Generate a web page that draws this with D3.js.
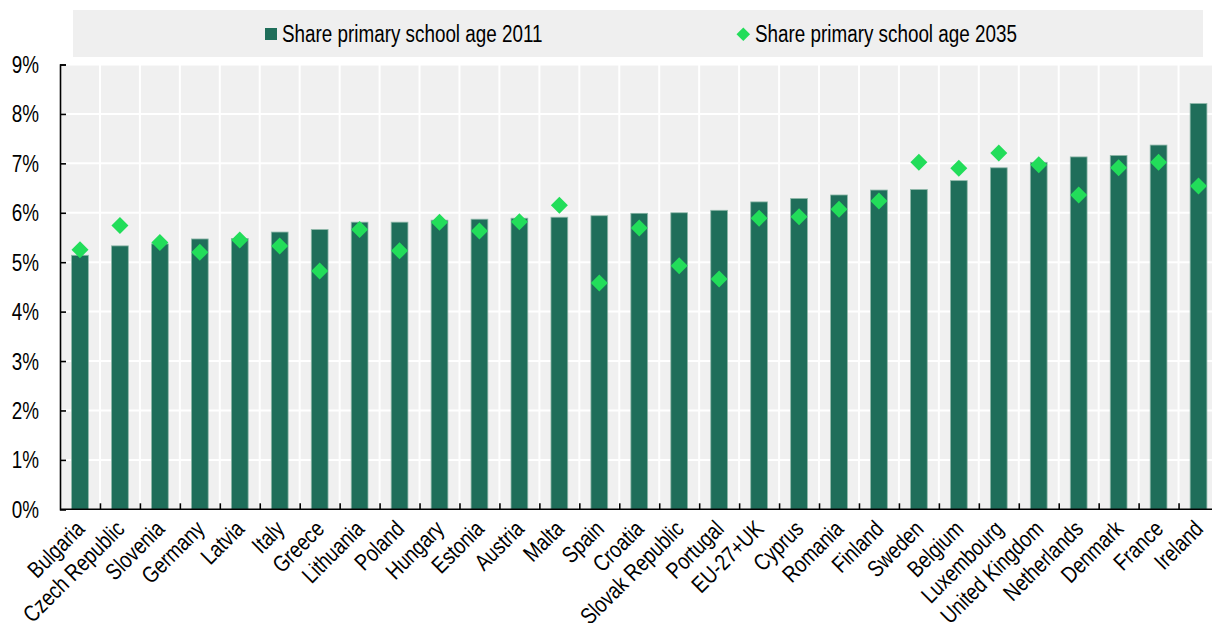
<!DOCTYPE html>
<html>
<head>
<meta charset="utf-8">
<script src="https://cdn.jsdelivr.net/npm/d3@7"></script>
<style>
  html, body { margin: 0; padding: 0; background: #ffffff; }
  svg { display: block; }
</style>
</head>
<body>
<svg id="chart" width="1212" height="623"></svg>
<script>
const categories = ["Bulgaria", "Czech Republic", "Slovenia", "Germany", "Latvia", "Italy", "Greece",
  "Lithuania", "Poland", "Hungary", "Estonia", "Austria", "Malta", "Spain", "Croatia",
  "Slovak Republic", "Portugal", "EU-27+UK", "Cyprus", "Romania", "Finland", "Sweden",
  "Belgium", "Luxembourg", "United Kingdom", "Netherlands", "Denmark", "France", "Ireland"];
const share2011 = [5.14, 5.33, 5.37, 5.47, 5.48, 5.61, 5.66, 5.81, 5.81, 5.85, 5.87, 5.89, 5.91, 5.94,
  5.99, 6.00, 6.05, 6.22, 6.29, 6.36, 6.46, 6.47, 6.65, 6.91, 7.02, 7.13, 7.16, 7.37, 8.21];
const share2035 = [5.25, 5.74, 5.40, 5.20, 5.45, 5.33, 4.82, 5.66, 5.23, 5.81, 5.63, 5.82, 6.15, 4.58,
  5.69, 4.93, 4.66, 5.89, 5.92, 6.07, 6.24, 7.02, 6.90, 7.21, 6.97, 6.36, 6.91, 7.02, 6.54];
const yTicks = [0, 1, 2, 3, 4, 5, 6, 7, 8, 9];
const seriesNames = ["Share primary school age 2011", "Share primary school age 2035"];

const BAR = "#1f6e5a", DIA = "#22dd5a", BG = "#f0f0f0";
const FS = 23;

// font detection: condensed sans available?
function fontAvailable(name) {
  const c = document.createElement("canvas").getContext("2d");
  const s = "Share primary school age 2011";
  c.font = `${FS}px monospace`; const w0 = c.measureText(s).width;
  c.font = `${FS}px "${name}", monospace`; const w1 = c.measureText(s).width;
  return Math.abs(w0 - w1) > 0.5;
}
let family, sx;
if (fontAvailable("Liberation Sans Narrow")) { family = '"Liberation Sans Narrow"'; sx = 1; }
else if (fontAvailable("Arial Narrow")) { family = '"Arial Narrow"'; sx = 1; }
else { family = '"Liberation Sans", Arial, sans-serif'; sx = 0.82; }

const svg = d3.select("#chart");
const W = 1212;
const x = d3.scaleBand().domain(categories).range([60, 1218.5]).padding(0);
const y = d3.scaleLinear().domain([0, 9]).range([509.3, 64.5]);

// legend
svg.append("rect").attr("x", 73).attr("y", 10).attr("width", 1130).attr("height", 47).attr("fill", "#efefef");
svg.append("rect").attr("x", 265).attr("y", 28).attr("width", 12).attr("height", 12).attr("fill", BAR);
function addText(sel, xx, yy, txt, anchor) {
  return sel.append("text")
    .attr("x", xx / sx).attr("y", yy)
    .attr("transform", sx === 1 ? null : `scale(${sx},1)`)
    .attr("text-anchor", anchor || "start")
    .style("font-family", family).style("font-size", FS + "px").attr("fill", "#000")
    .text(txt);
}
addText(svg, 282, 42, seriesNames[0]);
svg.append("path")
  .attr("d", d3.symbol().type(d3.symbolSquare).size(2 * 6.8 * 6.8)())
  .attr("transform", "translate(743.3,34.3) rotate(45)")
  .attr("fill", DIA);
addText(svg, 755, 42, seriesNames[1]);

// plot background
svg.append("rect").attr("x", 60).attr("y", y(9)).attr("width", W - 60).attr("height", y(0) - y(9)).attr("fill", BG);

// gridlines
svg.append("g").selectAll("line").data(yTicks.slice(1)).join("line")
  .attr("x1", 60).attr("x2", W).attr("y1", d => y(d)).attr("y2", d => y(d))
  .attr("stroke", "#fff").attr("stroke-width", 2);
svg.append("g").selectAll("line").data(categories.slice(1)).join("line")
  .attr("x1", d => x(d)).attr("x2", d => x(d)).attr("y1", y(9)).attr("y2", y(0))
  .attr("stroke", "#fff").attr("stroke-width", 2);

// bars
const bw = x.bandwidth() * 0.42;
svg.append("g").selectAll("rect").data(categories).join("rect")
  .attr("x", (d) => x(d) + (x.bandwidth() - bw) / 2)
  .attr("y", (d, i) => y(share2011[i]))
  .attr("width", bw)
  .attr("height", (d, i) => y(0) - y(share2011[i]))
  .attr("fill", BAR).attr("stroke", "#8fb8aa").attr("stroke-width", 0.8);

// diamonds
const dsym = d3.symbol().type(d3.symbolSquare).size(2 * 8.5 * 8.5)();
svg.append("g").selectAll("path").data(categories).join("path")
  .attr("d", dsym)
  .attr("transform", (d, i) => `translate(${x(d) + x.bandwidth() / 2},${y(share2035[i])}) rotate(45)`)
  .attr("fill", DIA);

// y axis
const yAxis = d3.axisLeft(y).tickValues(yTicks).tickFormat(d => d + "%").tickSize(-6).tickPadding(21);
const gy = svg.append("g").attr("transform", "translate(60,0)").call(yAxis);
gy.select(".domain").attr("stroke", "#000").attr("stroke-width", 1.6);
gy.selectAll(".tick line").attr("stroke", "#000").attr("stroke-width", 1.6);
gy.selectAll(".tick text").each(function () {
  const t = d3.select(this);
  const xx = +t.attr("x");
  t.attr("x", xx / sx).attr("transform", sx === 1 ? null : `scale(${sx},1)`)
   .attr("dy", "0.35em").attr("fill", "#000")
   .style("font-family", family).style("font-size", FS + "px");
});

// x axis (ticks at band boundaries)
const xb = d3.scaleLinear().domain([0, categories.length]).range(x.range());
const gxb = svg.append("g").attr("transform", `translate(0,${y(0)})`)
  .call(d3.axisBottom(xb).tickValues(d3.range(1, categories.length)).tickSize(-6).tickFormat(""));
gxb.select(".domain").remove();
gxb.selectAll(".tick line").attr("stroke", "#000").attr("stroke-width", 1.6);
svg.append("line").attr("x1", 60).attr("x2", W).attr("y1", y(0)).attr("y2", y(0))
  .attr("stroke", "#000").attr("stroke-width", 1.6);

// x labels via band axis
const gx = svg.append("g").attr("transform", `translate(0,${y(0)})`)
  .call(d3.axisBottom(x).tickSize(0).tickPadding(0));
gx.select(".domain").remove();
gx.selectAll(".tick text")
  .attr("x", 0).attr("y", 0).attr("dy", null)
  .attr("text-anchor", "end")
  .attr("transform", `translate(6,21) rotate(-45)` + (sx === 1 ? "" : ` scale(${sx},1)`))
  .attr("fill", "#000")
  .style("font-family", family).style("font-size", FS + "px");
</script>
</body>
</html>
